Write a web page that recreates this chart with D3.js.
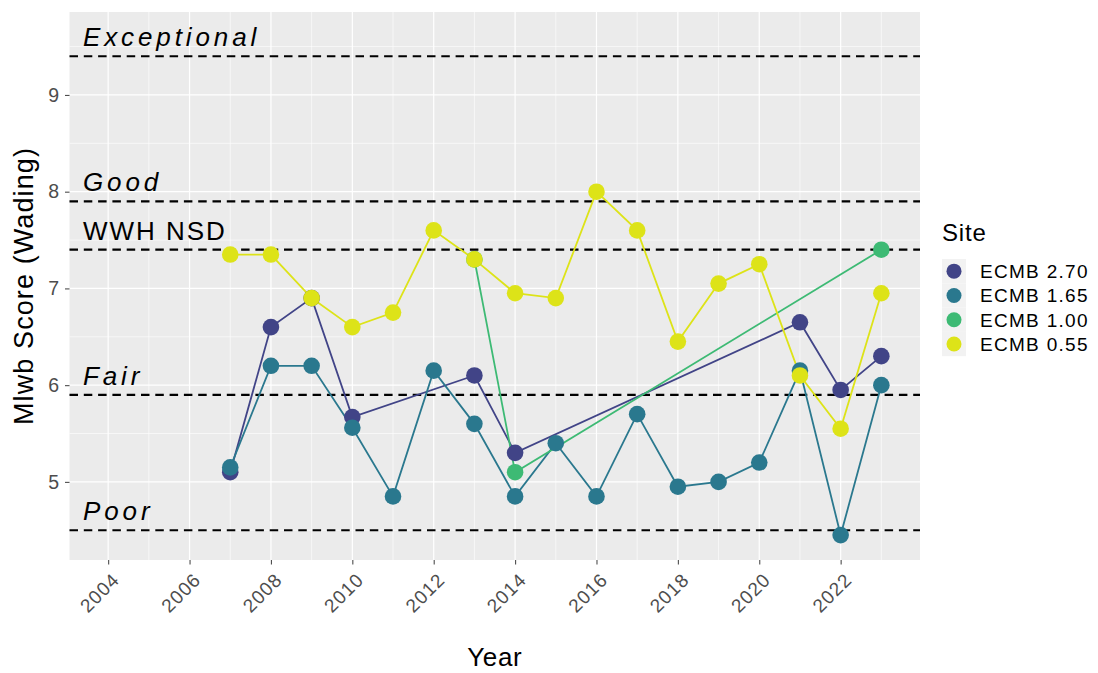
<!DOCTYPE html>
<html>
<head>
<meta charset="utf-8">
<script src="https://cdn.jsdelivr.net/npm/d3@7"></script>
<style>
  html, body { margin: 0; padding: 0; background: #ffffff; }
  svg { display: block; font-family: "Liberation Sans", Arial, sans-serif; }
</style>
</head>
<body>
<svg id="chart" width="1098" height="673"></svg>
<script>
// Years sampled at each site
const years = [2007, 2008, 2009, 2010, 2011, 2012, 2013, 2014, 2015, 2016, 2017, 2018, 2019, 2020, 2021, 2022, 2023];

// MIwb scores per site (null = not sampled that year)
const site270 = [5.10, 6.60, 6.90, 5.67, null, null, 6.10, 5.30, null, null, null, null, null, null, 6.65, 5.95, 6.30];
const site165 = [5.15, 6.20, 6.20, 5.56, 4.85, 6.15, 5.60, 4.85, 5.40, 4.85, 5.70, 4.95, 5.00, 5.20, 6.15, 4.45, 6.00];
const site100 = [null, null, null, null, null, null, 7.30, 5.10, null, null, null, null, null, null, null, null, 7.40];
const site055 = [7.35, 7.35, 6.90, 6.60, 6.75, 7.60, 7.30, 6.95, 6.90, 8.00, 7.60, 6.45, 7.05, 7.25, 6.10, 5.55, 6.95];

const siteNames = ["ECMB 2.70", "ECMB 1.65", "ECMB 1.00", "ECMB 0.55"];
const siteColors = ["#414487", "#2A788E", "#3DBA74", "#DDE318"];

// Narrative criteria thresholds
const thresholdNames = ["Exceptional", "Good", "WWH NSD", "Fair", "Poor"];
const thresholdValues = [9.4, 7.9, 7.4, 5.9, 4.5];
const thresholdItalic = [true, true, false, true, true];

const yTicks = [5, 6, 7, 8, 9];
const yMinor = [4.5, 5.5, 6.5, 7.5, 8.5, 9.5];
const xTicks = [2004, 2006, 2008, 2010, 2012, 2014, 2016, 2018, 2020, 2022];
const xMinor = [2005, 2007, 2009, 2011, 2013, 2015, 2017, 2019, 2021, 2023];

const svg = d3.select("#chart");
const panel = { left: 69.5, right: 920, top: 12, bottom: 560 };

const x = d3.scaleLinear().domain([2003.05, 2023.95]).range([panel.left, panel.right]);
const y = d3.scaleLinear().domain([4.1925, 9.8575]).range([panel.bottom, panel.top]);

// panel background
svg.append("rect")
  .attr("x", panel.left).attr("y", panel.top)
  .attr("width", panel.right - panel.left).attr("height", panel.bottom - panel.top)
  .attr("fill", "#ebebeb");

// grid lines
const grid = svg.append("g");
grid.selectAll(".ymin").data(yMinor).join("line")
  .attr("x1", panel.left).attr("x2", panel.right)
  .attr("y1", d => y(d)).attr("y2", d => y(d))
  .attr("stroke", "#ffffff").attr("stroke-width", 0.6);
grid.selectAll(".xmin").data(xMinor).join("line")
  .attr("y1", panel.top).attr("y2", panel.bottom)
  .attr("x1", d => x(d)).attr("x2", d => x(d))
  .attr("stroke", "#ffffff").attr("stroke-width", 0.6);
grid.selectAll(".ymaj").data(yTicks).join("line")
  .attr("x1", panel.left).attr("x2", panel.right)
  .attr("y1", d => y(d)).attr("y2", d => y(d))
  .attr("stroke", "#ffffff").attr("stroke-width", 1.2);
grid.selectAll(".xmaj").data(xTicks).join("line")
  .attr("y1", panel.top).attr("y2", panel.bottom)
  .attr("x1", d => x(d)).attr("x2", d => x(d))
  .attr("stroke", "#ffffff").attr("stroke-width", 1.2);

// threshold lines and their labels
const thr = svg.append("g");
thr.selectAll("line").data(thresholdValues).join("line")
  .attr("x1", panel.left).attr("x2", panel.right)
  .attr("y1", d => y(d)).attr("y2", d => y(d))
  .attr("stroke", "#000000").attr("stroke-width", 2.2)
  .attr("stroke-dasharray", "8.5,5.8");
thr.selectAll("text").data(thresholdNames).join("text")
  .attr("x", x(2003.38))
  .attr("y", (d, i) => y(thresholdValues[i] + 0.2))
  .attr("dy", "0.36em")
  .attr("font-size", 26)
  .attr("font-style", (d, i) => thresholdItalic[i] ? "italic" : "normal")
  .attr("letter-spacing", (d, i) => thresholdItalic[i] ? 3.9 : 2)
  .attr("fill", "#000000")
  .text(d => d);

// axes
const yAxis = d3.axisLeft(y).tickValues(yTicks).tickSize(4.5).tickPadding(6).tickFormat(d3.format("d"));
const gy = svg.append("g").attr("transform", `translate(${panel.left},0)`).call(yAxis);
gy.select(".domain").remove();
gy.selectAll("line").attr("stroke", "#4d4d4d").attr("stroke-width", 1.1);
gy.selectAll("text").attr("fill", "#4d4d4d").attr("font-size", 19.5).attr("font-family", "Liberation Sans, Arial, sans-serif");

const xAxis = d3.axisBottom(x).tickValues(xTicks).tickSize(4.5).tickFormat(d3.format("d"));
const gx = svg.append("g").attr("transform", `translate(0,${panel.bottom})`).call(xAxis);
gx.select(".domain").remove();
gx.selectAll("line").attr("stroke", "#4d4d4d").attr("stroke-width", 1.1);
gx.selectAll("text")
  .attr("fill", "#4d4d4d").attr("font-size", 19).attr("font-family", "Liberation Sans, Arial, sans-serif")
  .attr("letter-spacing", 1)
  .attr("text-anchor", "end")
  .attr("x", 0).attr("y", 0).attr("dy", 0)
  .attr("transform", "translate(12,21) rotate(-45)");

// axis titles
svg.append("text")
  .attr("x", (panel.left + panel.right) / 2).attr("y", 666)
  .attr("text-anchor", "middle").attr("font-size", 26).attr("letter-spacing", 0.6).attr("fill", "#000")
  .text("Year");
svg.append("text")
  .attr("transform", `translate(33,${(panel.top + panel.bottom) / 2}) rotate(-90)`)
  .attr("text-anchor", "middle").attr("font-size", 27).attr("letter-spacing", 1.1).attr("fill", "#000")
  .text("Mlwb Score (Wading)");

// series
const series = [site270, site165, site100, site055].map((vals, i) => ({
  name: siteNames[i],
  color: siteColors[i],
  points: years.map((yr, j) => ({ year: yr, value: vals[j] })).filter(p => p.value !== null)
}));

const line = d3.line().x(d => x(d.year)).y(d => y(d.value));

svg.append("g").selectAll("path").data(series).join("path")
  .attr("d", d => line(d.points))
  .attr("fill", "none")
  .attr("stroke", d => d.color)
  .attr("stroke-width", 1.8);

const pts = svg.append("g");
series.forEach(s => {
  pts.append("g").selectAll("circle").data(s.points).join("circle")
    .attr("cx", d => x(d.year)).attr("cy", d => y(d.value))
    .attr("r", 8.3)
    .attr("fill", s.color);
});

// legend
const legend = svg.append("g").attr("transform", "translate(942,0)");
legend.append("text")
  .attr("x", 0).attr("y", 241)
  .attr("font-size", 24).attr("letter-spacing", 0.8).attr("fill", "#000")
  .text("Site");
const keyStep = 24.3;
const keys = legend.selectAll(".key").data(series).join("g")
  .attr("transform", (d, i) => `translate(0,${259 + i * keyStep})`);
keys.append("rect")
  .attr("x", 0).attr("y", 0).attr("width", 24).attr("height", keyStep)
  .attr("fill", "#f2f2f2");
keys.append("circle")
  .attr("cx", 12).attr("cy", keyStep / 2).attr("r", 7.5)
  .attr("fill", d => d.color);
keys.append("text")
  .attr("x", 38).attr("y", keyStep / 2).attr("dy", "0.36em")
  .attr("font-size", 19).attr("letter-spacing", 1.3).attr("fill", "#000")
  .text(d => d.name);
</script>
</body>
</html>
